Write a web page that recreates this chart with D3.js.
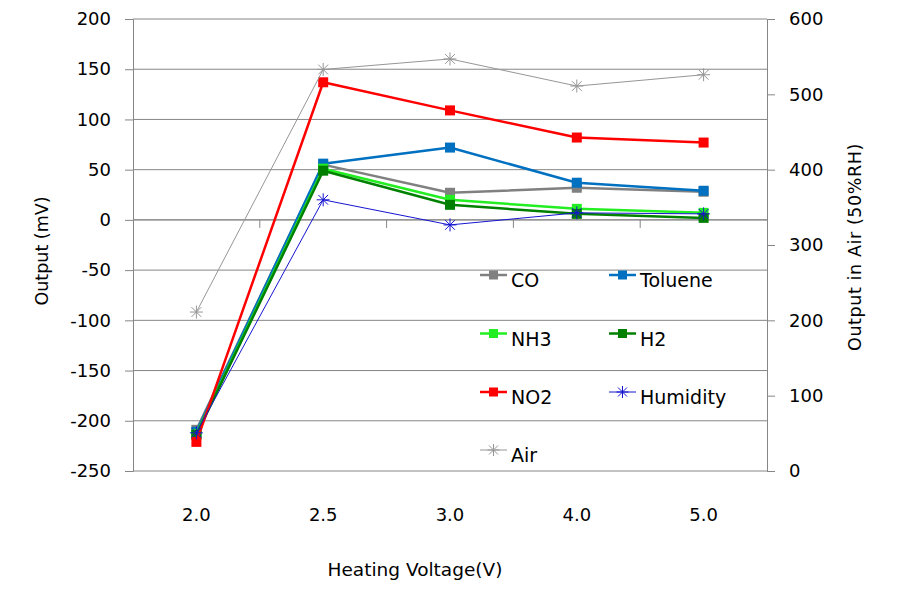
<!DOCTYPE html>
<html>
<head>
<meta charset="utf-8">
<script src="https://cdn.jsdelivr.net/npm/d3@7"></script>
<style>
  body { margin: 0; background: #fff; }
  text { font-family: "DejaVu Sans", sans-serif; fill: #000; }
</style>
</head>
<body>
<div id="chart"></div>
<script>
// Categories and series values
const voltages = ["2.0", "2.5", "3.0", "4.0", "5.0"];
const coVals = [-209, 55, 27, 32, 28];
const tolueneVals = [-211, 56, 72, 37, 29];
const nh3Vals = [-213, 51, 20, 11, 7];
const h2Vals = [-214, 49, 15, 6, 2];
const no2Vals = [-221, 137, 109, 82, 77];
const humidityVals = [-212, 20, -5, 7, 6];
const airVals = [211, 533, 547, 511, 526]; // right axis

const leftTicks = [-250, -200, -150, -100, -50, 0, 50, 100, 150, 200];
const rightTicks = [0, 100, 200, 300, 400, 500, 600];

const series = [
    { name: "CO", values: coVals, color: "#808080", width: 2.5, marker: "square", axis: "left" },
    { name: "Toluene", values: tolueneVals, color: "#0070C0", width: 2.5, marker: "square", axis: "left" },
    { name: "NH3", values: nh3Vals, color: "#22EE22", width: 2.5, marker: "square", axis: "left" },
    { name: "H2", values: h2Vals, color: "#008000", width: 2.5, marker: "square", axis: "left" },
    { name: "NO2", values: no2Vals, color: "#FF0000", width: 2.5, marker: "square", axis: "left" },
    { name: "Humidity", values: humidityVals, color: "#1515D0", width: 1, marker: "star", axis: "left" },
    { name: "Air", values: airVals, color: "#969696", width: 1, marker: "star", axis: "right" }
];

const width = 901, height = 612;
const margin = { left: 133, right: 134, top: 19, bottom: 141 };
const plotW = width - margin.left - margin.right;
const plotH = height - margin.top - margin.bottom;

const svg = d3.select("#chart").append("svg")
    .attr("width", width)
    .attr("height", height);

const g = svg.append("g").attr("transform", `translate(${margin.left},${margin.top})`);

const x = d3.scaleBand().domain(voltages).range([0, plotW]);
const yL = d3.scaleLinear().domain([-250, 200]).range([plotH, 0]);
const yR = d3.scaleLinear().domain([0, 600]).range([plotH, 0]);

const axisColor = "#868686";
const tickFont = 18;

// Gridlines
g.append("g")
    .selectAll("line")
    .data(leftTicks)
    .join("line")
    .attr("x1", 0).attr("x2", plotW)
    .attr("y1", d => yL(d)).attr("y2", d => yL(d))
    .attr("stroke", axisColor).attr("stroke-width", 1);

// Left axis
const leftAxis = g.append("g")
    .call(d3.axisLeft(yL).tickValues(leftTicks).tickSize(8).tickPadding(14).tickFormat(d => String(d)));
leftAxis.select(".domain").attr("stroke", axisColor);
leftAxis.selectAll(".tick line").attr("stroke", axisColor);
leftAxis.selectAll("text").attr("font-size", tickFont).attr("font-family", "DejaVu Sans").attr("fill", "#000");

// Right axis
const rightAxis = g.append("g")
    .attr("transform", `translate(${plotW},0)`)
    .call(d3.axisRight(yR).tickValues(rightTicks).tickSize(8).tickPadding(14).tickFormat(d => String(d)));
rightAxis.select(".domain").attr("stroke", axisColor);
rightAxis.selectAll(".tick line").attr("stroke", axisColor);
rightAxis.selectAll("text").attr("font-size", tickFont).attr("font-family", "DejaVu Sans").attr("fill", "#000");

// X axis at zero, tick marks between categories
const xAxisG = g.append("g").attr("transform", `translate(0,${yL(0)})`);
xAxisG.append("line")
    .attr("x1", 0).attr("x2", plotW)
    .attr("stroke", axisColor);
xAxisG.selectAll(".sep")
    .data(voltages.slice(1))
    .join("line")
    .attr("class", "sep")
    .attr("x1", d => x(d)).attr("x2", d => x(d))
    .attr("y1", 0).attr("y2", 8)
    .attr("stroke", axisColor);

// X labels at bottom
g.append("g")
    .selectAll("text")
    .data(voltages)
    .join("text")
    .attr("x", d => x(d) + x.bandwidth() / 2)
    .attr("y", 521 - margin.top)
    .attr("text-anchor", "middle")
    .attr("font-size", tickFont)
    .text(d => d);

// Axis titles
svg.append("text")
    .attr("transform", `translate(48,${margin.top + 232}) rotate(-90)`)
    .attr("text-anchor", "middle")
    .attr("font-size", 17.5)
    .text("Output (mV)");

svg.append("text")
    .attr("transform", `translate(861,${margin.top + 228}) rotate(-90)`)
    .attr("text-anchor", "middle")
    .attr("font-size", 17.5)
    .attr("letter-spacing", 0.6)
    .text("Output in Air (50%RH)");

svg.append("text")
    .attr("x", 415)
    .attr("y", 576)
    .attr("text-anchor", "middle")
    .attr("font-size", 18.5)
    .text("Heating Voltage(V)");

// Marker helpers
function drawMarker(sel, s, size) {
    if (s.marker === "square") {
        sel.append("rect")
            .attr("x", -size / 2).attr("y", -size / 2)
            .attr("width", size).attr("height", size)
            .attr("fill", s.color);
    } else {
        const r = size / 2 + 1;
        const p = d3.path();
        p.moveTo(-r, 0); p.lineTo(r, 0);
        p.moveTo(0, -r); p.lineTo(0, r);
        const k = r * 0.75;
        p.moveTo(-k, -k); p.lineTo(k, k);
        p.moveTo(-k, k); p.lineTo(k, -k);
        sel.append("path")
            .attr("d", p.toString())
            .attr("stroke", s.color)
            .attr("stroke-width", 1)
            .attr("fill", "none");
    }
}

// Series lines and markers
series.forEach(s => {
    const yScale = s.axis === "right" ? yR : yL;
    const line = d3.line()
        .x((d, i) => x(voltages[i]) + x.bandwidth() / 2)
        .y(d => yScale(d));

    g.append("path")
        .datum(s.values)
        .attr("d", line)
        .attr("fill", "none")
        .attr("stroke", s.color)
        .attr("stroke-width", s.width)
        .attr("stroke-linejoin", "round");

    g.append("g")
        .selectAll("g")
        .data(s.values)
        .join("g")
        .attr("transform", (d, i) => `translate(${x(voltages[i]) + x.bandwidth() / 2},${yScale(d)})`)
        .each(function () { drawMarker(d3.select(this), s, s.marker === "square" ? 10 : 11); });
});

// Legend (two columns inside the plot)
const legendCols = [482, 611];
const legendRows = [275, 333.5, 392, 450];
const legend = svg.append("g");
series.forEach((s, i) => {
    const lx = legendCols[i % 2];
    const ly = legendRows[Math.floor(i / 2)];
    const item = legend.append("g").attr("transform", `translate(${lx},${ly})`);
    item.append("line")
        .attr("x1", -2).attr("x2", 25)
        .attr("stroke", s.color)
        .attr("stroke-width", s.width === 1 ? 1 : 2.5);
    const m = item.append("g").attr("transform", "translate(11.5,0)");
    drawMarker(m, s, s.marker === "square" ? 9 : 10);
    item.append("text")
        .attr("x", 29)
        .attr("y", 12)
        .attr("font-size", 19)
        .text(s.name);
});
</script>
</body>
</html>
